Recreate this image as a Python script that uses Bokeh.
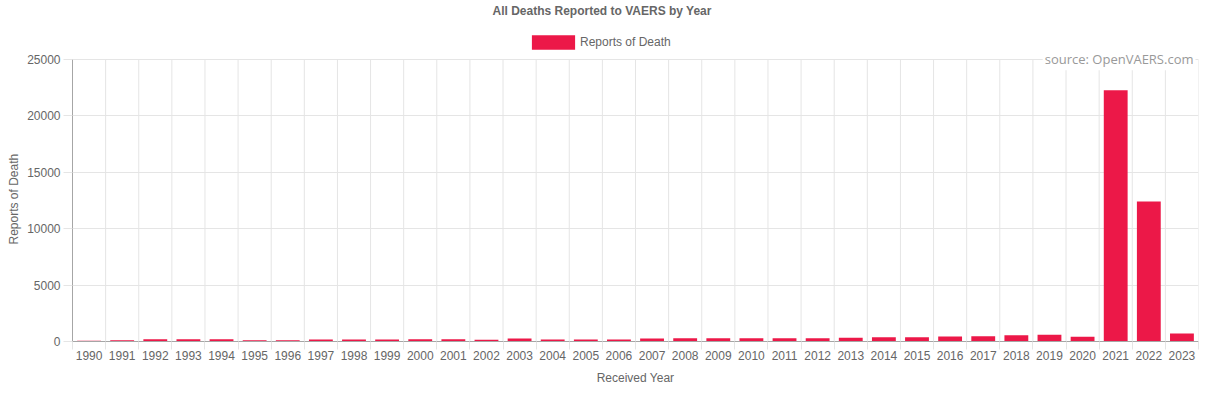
from bokeh.plotting import figure
from bokeh.models import FixedTicker, Label, Legend, LegendItem, ColumnDataSource, Range1d, Title
from bokeh.embed import file_html
from bokeh.resources import INLINE

years = list(range(1990, 2024))
deaths = [60, 117, 205, 205, 205, 117, 117, 176, 176, 176,
          205, 205, 147, 264, 176, 176, 176, 264, 293, 293,
          293, 293, 293, 323, 381, 381, 440, 470, 557, 587,
          411, 22270, 12410, 704]
y_ticks = [0, 5000, 10000, 15000, 20000, 25000]
series_name = "Reports of Death"
title_text = "All Deaths Reported to VAERS by Year"
x_label = "Received Year"
y_label = "Reports of Death"
source_text = "source: OpenVAERS.com"

BAR = "#EC1848"
TXT = "#666666"
GRID = "#e5e5e5"
AXIS = "#a6a6a6"
FONT = "Liberation Sans"

y_top = y_ticks[-1]
y_end = y_top * 340 / 283   # frame reaches up to the title area
boundaries = [y - 0.5 for y in years] + [years[-1] + 0.5]

src = ColumnDataSource(dict(year=years, deaths=deaths))
gsrc = ColumnDataSource(dict(x=boundaries, y0=[0] * len(boundaries), y1=[y_top] * len(boundaries)))

p = figure(width=1206, height=387, output_backend="svg", toolbar_location=None,
           x_range=Range1d(years[0] - 0.5, years[-1] + 0.5),
           y_range=Range1d(0, y_end),
           min_border_left=72, min_border_right=8, min_border_top=2, min_border_bottom=45)
p.outline_line_color = None
p.background_fill_color = "white"
p.border_fill_color = "white"

# vertical category grid lines (limited to value range)
p.segment(x0="x", y0="y0", x1="x", y1="y1", source=gsrc, line_color=GRID, line_width=1)

r = p.vbar(x="year", top="deaths", width=0.72, source=src, fill_color=BAR, line_color=None)

# title
p.add_layout(Label(x=years[0] - 0.5, y=y_end, x_offset=420, y_offset=-8, text=title_text,
                   text_align="left", text_baseline="middle", text_font=FONT,
                   text_font_size="12px", text_font_style="bold", text_color=TXT))

# x axis
xa = p.xaxis[0]
xa.ticker = FixedTicker(ticks=years, minor_ticks=boundaries)
xa.major_tick_out = 0
xa.major_tick_in = 0
xa.minor_tick_out = 8
xa.minor_tick_in = 0
xa.minor_tick_line_color = GRID
xa.axis_line_color = AXIS
xa.major_label_standoff = 1
xa.major_label_text_font = FONT
xa.major_label_text_font_size = "12px"
xa.major_label_text_color = TXT
xa.axis_label = x_label
xa.axis_label_text_font = FONT
xa.axis_label_text_font_size = "12px"
xa.axis_label_text_font_style = "normal"
xa.axis_label_text_color = TXT
xa.axis_label_standoff = 8

# y axis (its title is a side Title so it is centred on the value range)
ya = p.yaxis[0]
ya.ticker = FixedTicker(ticks=y_ticks)
ya.bounds = (0, y_top)
ya.major_tick_out = 9
ya.major_tick_in = 0
ya.major_tick_line_color = GRID
ya.minor_tick_line_color = None
ya.axis_line_color = AXIS
ya.major_label_standoff = 3
ya.major_label_text_font = FONT
ya.major_label_text_font_size = "12px"
ya.major_label_text_color = TXT

yt = Title(text=y_label, align="left", offset=97, text_font=FONT, text_font_size="12px",
           text_font_style="normal", text_color=TXT, standoff=8)
p.add_layout(yt, "left")

# grids
p.xgrid.visible = False
p.ygrid.ticker = FixedTicker(ticks=y_ticks)
p.ygrid.grid_line_color = GRID

# legend (inside the extended frame, above the value range)
leg = Legend(items=[LegendItem(label=series_name, renderers=[r])],
             location=(454, 290), orientation="horizontal",
             glyph_width=54, glyph_height=18, label_height=18,
             label_text_font=FONT, label_text_font_size="12px", label_text_color=TXT,
             label_text_baseline="middle",
             padding=0, margin=0, spacing=0, label_standoff=0,
             border_line_color=None, background_fill_alpha=0)
p.add_layout(leg, "center")

# source watermark
lab = Label(x=years[-1] + 0.5, y=y_top, x_offset=-3, text=source_text,
            text_align="right", text_baseline="middle",
            text_font="Open Sans", text_font_size="13px", text_color="#999999",
            background_fill_color="white", padding=2)
p.add_layout(lab)

open("out.html", "w").write(file_html(p, INLINE))
